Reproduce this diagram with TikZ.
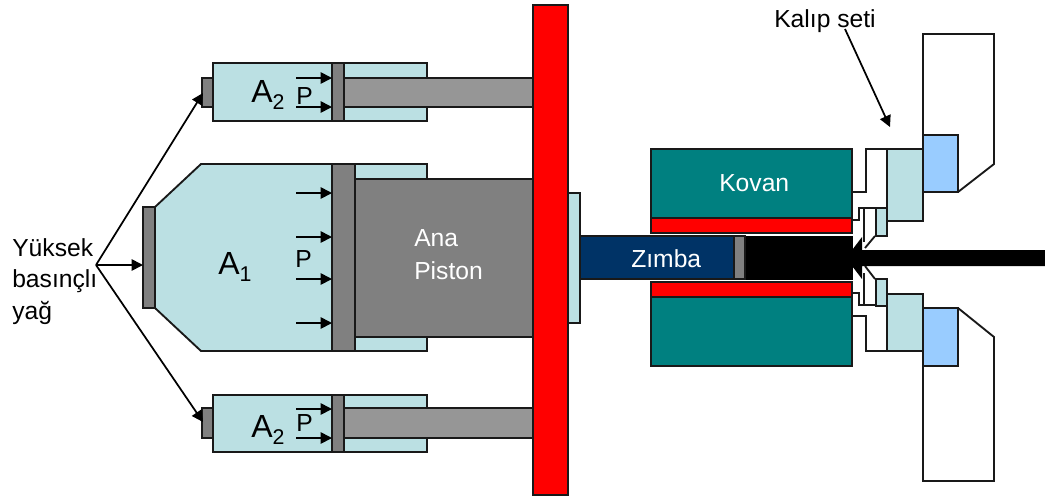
\documentclass[tikz,border=0pt]{standalone}
\usepackage{fontspec}
\setmainfont{Liberation Sans}
\usetikzlibrary{arrows.meta}
\definecolor{lightpart}{HTML}{BBE0E3}
\definecolor{piston}{HTML}{808080}
\definecolor{rod}{HTML}{969696}
\definecolor{kovan}{HTML}{008080}
\definecolor{zimba}{HTML}{003366}
\definecolor{insert}{HTML}{99CCFF}
\newcommand{\subtxt}[1]{\raisebox{-0.22em}{\fontsize{16}{16}\selectfont #1}}
\tikzset{
  x=0.75pt,y=-0.75pt,
  part/.style={draw=black!90,line width=1.4pt,line join=miter},
  lightbox/.style={part,fill=lightpart},
  pistonbox/.style={part,fill=piston},
  rodbox/.style={part,fill=rod},
  redbox/.style={part,fill=red},
  tealbox/.style={part,fill=kovan},
  bluebox/.style={part,fill=insert},
  outline/.style={part},
  pressure/.style={draw=black,line width=1.3pt,-{Triangle[length=8.5pt,width=8.5pt]}},
  label/.style={anchor=base west,inner sep=0pt,font=\fontsize{18.5}{23.6}\selectfont,text=black},
  whitelabel/.style={label,text=white},
  area/.style={label,font=\fontsize{24}{24}\selectfont},
}
\begin{document}
\begin{tikzpicture}
\useasboundingbox (0,0) rectangle (1045,497);
% top small cylinder
\draw[pistonbox] (202,78) rectangle (213,107);
\draw[lightbox] (213,63) rectangle (427,121);
\draw[rodbox] (344,78) rectangle (533,107);
\draw[pistonbox] (332,63) rectangle (344,121);
% bottom small cylinder
\draw[pistonbox] (202,408) rectangle (213,438);
\draw[lightbox] (213,395) rectangle (427,452);
\draw[rodbox] (344,408) rectangle (533,438);
\draw[pistonbox] (332,395) rectangle (344,452);
% main cylinder
\draw[pistonbox] (143,207) rectangle (155,308);
\draw[lightbox] (155,207) -- (201,164) -- (427,164) -- (427,351) -- (201,351) -- (155,308) -- cycle;
\draw[pistonbox] (355,179) rectangle (533,337);
\draw[pistonbox] (332,164) rectangle (355,351);
% plates
\draw[lightbox] (568,193) rectangle (580,323);
\draw[redbox] (533,5) rectangle (568,495);
% punch
\draw[draw=black,fill=black] (745,236) rectangle (852,279);
\draw[part,fill=zimba] (580,236) rectangle (734,279);
\draw[pistonbox] (734,236) rectangle (745,279);
% container
\draw[tealbox] (651,149) rectangle (852,218);
\draw[redbox] (651,218) rectangle (852,233);
\draw[redbox] (651,282) rectangle (852,297);
\draw[tealbox] (651,297) rectangle (852,366);
% die set, top
\draw[outline] (852,192) -- (866,192) -- (866,149) -- (887,149);
\draw[outline] (852,220) -- (859,220) -- (859,208) -- (876,208);
\draw[outline] (864,208) -- (864,242);
\draw[outline] (875,236) -- (865,248);
\draw[lightbox] (876,208) rectangle (887,236);
\draw[lightbox] (887,149) rectangle (923,221);
\draw[outline] (923,135) -- (923,34) -- (994,34) -- (994,164) -- (958,192);
\draw[bluebox] (923,135) rectangle (958,192);
% die set, bottom
\draw[outline] (852,316) -- (866,316) -- (866,351) -- (887,351);
\draw[outline] (852,293) -- (859,293) -- (859,305) -- (876,305);
\draw[outline] (864,305) -- (864,273);
\draw[outline] (875,279) -- (865,266);
\draw[lightbox] (876,279) rectangle (887,306);
\draw[lightbox] (887,294) rectangle (923,351);
\draw[outline] (923,366) -- (923,481) -- (994,481) -- (994,337) -- (958,308);
\draw[bluebox] (923,308) rectangle (958,366);
% ram
\fill[black] (1045,250) -- (862,250) -- (862,237) -- (846,258) -- (862,279) -- (862,266) -- (1045,266) -- cycle;
% pressure arrows
\foreach \n/\y in {a/78,b/107,c/193,d/237,e/279,f/323,g/409,h/438}{
  \coordinate (ps\n) at (296,\y);
  \coordinate (pe\n) at (332,\y);
  \draw[pressure] (ps\n) -- (pe\n);
}
% labels
\node[label] (kalip) at (774,27) {Kalıp seti};
\node[label,anchor=north west,align=left] (yuksek) at (12,238) {Yüksek\\basınçlı\\yağ};
\node[whitelabel] (kovanlbl) at (719,191) {Kovan};
\node[whitelabel] (zimbalbl) at (631,267) {Zımba};
\node[whitelabel] (analbl) at (414,246) {Ana};
\node[whitelabel] (pistonlbl) at (414,279) {Piston};
\node[area] (aone) at (218,274) {A\subtxt{1}};
\node[area] (atwotop) at (251,102) {A\subtxt{2}};
\node[area] (atwobot) at (251,437) {A\subtxt{2}};
\node[label] (pmain) at (295,267) {P};
\node[label] (ptop) at (296,104) {P};
\node[label] (pbot) at (296,431) {P};
% connectors
\coordinate (oil) at (96,265);
\coordinate (porttop) at (203,93);
\coordinate (portmid) at (143,265);
\coordinate (portbot) at (203,422);
\coordinate (kalipstart) at (845,29);
\coordinate (kalipend) at (890,127);
\draw[pressure] (oil) -- (porttop);
\draw[pressure] (oil) -- (portmid);
\draw[pressure] (oil) -- (portbot);
\draw[pressure] (kalipstart) -- (kalipend);
\end{tikzpicture}
\end{document}
